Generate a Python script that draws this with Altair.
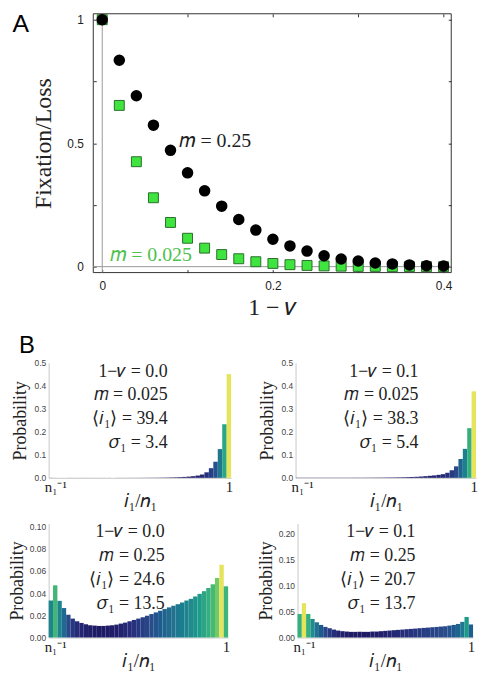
import altair as alt
import pandas as pd

SERIF = "Liberation Serif"
SANS = "Liberation Sans"

# ---------------- Panel A data ----------------
x_a = [0.00, 0.02, 0.04, 0.06, 0.08, 0.10, 0.12, 0.14, 0.16, 0.18, 0.20,
       0.22, 0.24, 0.26, 0.28, 0.30, 0.32, 0.34, 0.36, 0.38, 0.40]
fix_m025 = [1.000, 0.836, 0.692, 0.573, 0.471, 0.380, 0.307, 0.245, 0.191, 0.148, 0.111,
            0.084, 0.063, 0.044, 0.031, 0.023, 0.015, 0.011, 0.007, 0.004, 0.003]
fix_m0025 = [1.000, 0.653, 0.425, 0.279, 0.179, 0.115, 0.075, 0.049, 0.032, 0.020, 0.013,
             0.008, 0.005, 0.003, 0.002, 0.001, 0.001, 0.000, 0.000, 0.000, 0.000]
x_ticks_a = [0, 0.1, 0.2, 0.3, 0.4]
y_ticks_a = [0, 0.25, 0.5, 0.75, 1]

# ---------------- Panel B data ----------------
i_vals = [0, 1, 2, 3, 4, 5, 6, 7, 8, 9, 10, 11, 12, 13, 14, 15, 16, 17, 18, 19, 20,
          21, 22, 23, 24, 25, 26, 27, 28, 29, 30, 31, 32, 33, 34, 35, 36, 37, 38, 39, 40]

p_b1 = [0.0003, 0.0002, 0.0002, 0.0002, 0.0002, 0.0002, 0.0002, 0.0002, 0.0002, 0.0002,
        0.0002, 0.0002, 0.0002, 0.0002, 0.0002, 0.0003, 0.0003, 0.0003, 0.0004, 0.0004,
        0.0005, 0.0006, 0.0007, 0.0008, 0.0010, 0.0012, 0.0015, 0.0019, 0.0024, 0.0031,
        0.0040, 0.0053, 0.0072, 0.0100, 0.0145, 0.0240, 0.0420, 0.0700, 0.1250, 0.2330,
        0.4510]
p_b2 = [0.0010, 0.0009, 0.0009, 0.0009, 0.0009, 0.0009, 0.0009, 0.0009, 0.0009, 0.0009,
        0.0009, 0.0009, 0.0009, 0.0010, 0.0010, 0.0010, 0.0011, 0.0012, 0.0013, 0.0014,
        0.0016, 0.0018, 0.0020, 0.0023, 0.0027, 0.0032, 0.0038, 0.0046, 0.0057, 0.0072,
        0.0088, 0.0105, 0.0130, 0.0160, 0.0220, 0.0330, 0.0500, 0.0820, 0.1260, 0.2160,
        0.3760]
p_b3 = [0.0333, 0.0470, 0.0330, 0.0265, 0.0205, 0.0170, 0.0146, 0.0131, 0.0119, 0.0110,
        0.0107, 0.0104, 0.0104, 0.0107, 0.0110, 0.0116, 0.0125, 0.0134, 0.0146, 0.0158,
        0.0170, 0.0182, 0.0196, 0.0211, 0.0226, 0.0241, 0.0256, 0.0271, 0.0286, 0.0300,
        0.0315, 0.0333, 0.0348, 0.0369, 0.0393, 0.0417, 0.0446, 0.0479, 0.0536, 0.0655,
        0.0461]
p_b4 = [0.0451, 0.0660, 0.0450, 0.0356, 0.0292, 0.0241, 0.0203, 0.0178, 0.0152, 0.0133,
        0.0121, 0.0114, 0.0108, 0.0108, 0.0108, 0.0108, 0.0108, 0.0114, 0.0114, 0.0121,
        0.0127, 0.0133, 0.0140, 0.0146, 0.0152, 0.0159, 0.0165, 0.0171, 0.0178, 0.0184,
        0.0190, 0.0197, 0.0203, 0.0210, 0.0216, 0.0229, 0.0241, 0.0260, 0.0300, 0.0394,
        0.0250]

lines_b1 = ["1\u2212\U0001D708 = 0.0", "\U0001D45A = 0.025", "\u27E8\U0001D456\u2081\u27E9 = 39.4", "\U0001D70E\u2081 = 3.4"]
lines_b2 = ["1\u2212\U0001D708 = 0.1", "\U0001D45A = 0.025", "\u27E8\U0001D456\u2081\u27E9 = 38.3", "\U0001D70E\u2081 = 5.4"]
lines_b3 = ["1\u2212\U0001D708 = 0.0", "\U0001D45A = 0.25", "\u27E8\U0001D456\u2081\u27E9 = 24.6", "\U0001D70E\u2081 = 13.5"]
lines_b4 = ["1\u2212\U0001D708 = 0.1", "\U0001D45A = 0.25", "\u27E8\U0001D456\u2081\u27E9 = 20.7", "\U0001D70E\u2081 = 13.7"]

VIR = ["#1f1a66", "#27307c", "#2a4d8b", "#266e8e", "#23898d", "#2ba584",
       "#51bd70", "#8fd35a", "#e6e45a"]

# ---------------- Panel A ----------------
A_SHIFT = 45          # plot area starts this far right of the panel origin
A_W = 406             # panel width (origin .. right frame)
XMIN, XMAX = -0.0105, 0.409
YMIN, YMAX = -0.024, 1.024
TK = 3                # inward tick length

dfA = pd.DataFrame({"x": x_a, "black": fix_m025, "green": fix_m0025})
xsA = alt.Scale(domain=[XMIN, XMAX], range=[A_SHIFT, A_W], nice=False, zero=False)
ysA = alt.Scale(domain=[YMIN, YMAX], nice=False, zero=False)

xax_bottom = alt.Axis(values=x_ticks_a, format="~g",
                      labelExpr="(datum.value == 0.1 || datum.value == 0.3) ? '' : datum.label",
                      title="1 \u2212 \U0001D708", orient="bottom",
                      titleFont=SERIF, titleFontSize=24, titleFontWeight="normal", titleColor="#222",
                      titlePadding=4, labelFont=SANS, labelFontSize=12, labelColor="#222",
                      labelPadding=8, ticks=True, tickSize=TK, tickColor="#333", tickWidth=1,
                      offset=-TK, domain=False, grid=False, labelFlush=False)
xax_top = alt.Axis(values=x_ticks_a, orient="top", labels=False, title="", ticks=True,
                   tickSize=TK, tickColor="#333", tickWidth=1, offset=-TK, domain=False, grid=False)
yax_left = alt.Axis(values=y_ticks_a, format="~g",
                    labelExpr="(datum.value == 0.25 || datum.value == 0.75) ? '' : datum.label",
                    title="Fixation/Loss", orient="left",
                    titleFont=SERIF, titleFontSize=24, titleFontWeight="normal", titleColor="#222",
                    titlePadding=10, labelFont=SANS, labelFontSize=12, labelColor="#222",
                    labelPadding=10, ticks=True, tickSize=TK, tickColor="#333", tickWidth=1,
                    domain=False, grid=False, minExtent=31, maxExtent=31, offset=-(A_SHIFT + TK))
yax_right = alt.Axis(values=y_ticks_a, orient="right", labels=False, title="", ticks=True,
                     tickSize=TK, tickColor="#333", tickWidth=1, offset=-TK, domain=False, grid=False)

X_bot = alt.X("x:Q", scale=xsA, axis=xax_bottom)
X_top = alt.X("x:Q", scale=xsA, axis=xax_top)
X_no = alt.X("x:Q", scale=xsA, axis=None)
Y_left = alt.Y("black:Q", scale=ysA, axis=yax_left)
Y_right = alt.Y("black:Q", scale=ysA, axis=yax_right)
Y_no = alt.Y("black:Q", scale=ysA, axis=None)
Yg_no = alt.Y("green:Q", scale=ysA, axis=None)

frame_h = alt.Chart(pd.DataFrame({"black": [YMIN, YMAX], "x": [XMIN, XMIN], "xe": [XMAX, XMAX]})).mark_rule(
    color="#333", strokeWidth=1).encode(y=Y_left, x=X_bot, x2="xe:Q")
frame_v = alt.Chart(pd.DataFrame({"x": [XMIN, XMAX], "black": [YMIN, YMIN], "ye": [YMAX, YMAX]})).mark_rule(
    color="#333", strokeWidth=1).encode(x=X_top, y=Y_right, y2="ye:Q")
zero_v = alt.Chart(pd.DataFrame({"x": [0.0]})).mark_rule(color="#9a9a9a", strokeWidth=1).encode(x=X_no)
zero_h = alt.Chart(pd.DataFrame({"black": [0.0], "x": [XMIN], "xe": [XMAX]})).mark_rule(
    color="#9a9a9a", strokeWidth=1).encode(y=Y_no, x=X_no, x2="xe:Q")
squares = alt.Chart(dfA).mark_square(size=100, color="#3fe43f", stroke="#2a6e2a",
                                      strokeWidth=1, opacity=1, filled=True).encode(x=X_no, y=Yg_no)
circles = alt.Chart(dfA).mark_circle(size=135, color="black", opacity=1).encode(x=X_no, y=Y_no)
lab_black = alt.Chart(pd.DataFrame({"x": [0.0905], "black": [0.51], "t": ["\U0001D45A = 0.25"]})).mark_text(
    align="left", baseline="middle", font=SERIF, fontSize=20, color="#222").encode(x=X_no, y=Y_no, text="t:N")
lab_green = alt.Chart(pd.DataFrame({"x": [0.0093], "black": [0.045], "t": ["\U0001D45A = 0.025"]})).mark_text(
    align="left", baseline="middle", font=SERIF, fontSize=20, color="#4cc24c").encode(x=X_no, y=Y_no, text="t:N")
lab_A = alt.Chart(pd.DataFrame({"t": ["A"]})).mark_text(
    align="center", baseline="alphabetic", font=SANS, fontSize=25, color="black").encode(
    x=alt.value(-28), y=alt.value(18), text="t:N")

panelA = alt.layer(frame_h, frame_v, zero_v, zero_h, squares, circles,
                   lab_black, lab_green, lab_A).resolve_axis(
    x="independent", y="independent").properties(width=A_W, height=261)


# ---------------- Panel B ----------------
def hist(probs, lines, ytop, yticks, yfmt, w, h, text_x, title_pad, letter=None):
    df = pd.DataFrame({"i": i_vals, "p": probs})
    xs = alt.Scale(domain=[-0.5, 40.5], nice=False, zero=False)
    ys = alt.Scale(domain=[0, ytop], nice=False, zero=True)
    xax = alt.Axis(values=[1, 40], labelExpr="datum.value == 1 ? 'n\u2081\u207B\u00B9' : '1'",
                   labelFont=SERIF, labelFontSize=15, labelColor="#222", labelPadding=2,
                   ticks=False, domainColor="#c8c8c8", grid=False, labelFlush=False,
                   title="\U0001D456\u2081/\U0001D45B\u2081", titleFont=SERIF, titleFontSize=19,
                   titleFontWeight="normal", titleColor="#222", titlePadding=1,
                   minExtent=13, maxExtent=13)
    yax = alt.Axis(values=yticks, format=yfmt, title="Probability", titleFont=SERIF,
                   titleFontSize=18, titleFontWeight="normal", titleColor="#222",
                   titlePadding=title_pad, labelFont=SANS, labelFontSize=8.5, labelColor="#444",
                   labelPadding=3, ticks=False, domainColor="#c8c8c8", grid=False,
                   minExtent=16, maxExtent=16)
    bars = alt.Chart(df).transform_calculate(
        lo="datum.i - 0.5", hi="datum.i + 0.5"
    ).mark_rect().encode(
        x=alt.X("lo:Q", scale=xs, axis=xax),
        x2="hi:Q",
        y=alt.Y("p:Q", scale=ys, axis=yax),
        y2=alt.datum(0),
        color=alt.Color("p:Q", scale=alt.Scale(type="pow", exponent=0.7, range=VIR), legend=None),
    )
    layers = [bars]
    baselines = [14, 38, 62, 86]
    for t, yb in zip(lines, baselines):
        layers.append(alt.Chart(pd.DataFrame({"t": [t]})).mark_text(
            align="right", baseline="alphabetic", font=SERIF, fontSize=18, color="#222"
        ).encode(x=alt.value(text_x), y=alt.value(yb), text="t:N"))
    if letter:
        layers.append(alt.Chart(pd.DataFrame({"t": [letter]})).mark_text(
            align="center", baseline="middle", font=SANS, fontSize=24, color="black"
        ).encode(x=alt.value(-22), y=alt.value(-17), text="t:N"))
    return alt.layer(*layers).properties(width=w, height=h)


b1 = hist(p_b1, lines_b1, 0.5, [0, 0.1, 0.2, 0.3, 0.4, 0.5], ".1f", 184, 116, 120, 3, "B")
b2 = hist(p_b2, lines_b2, 0.5, [0, 0.1, 0.2, 0.3, 0.4, 0.5], ".1f", 182, 116, 124, 3)
b3 = hist(p_b3, lines_b3, 0.1027, [0, 0.02, 0.04, 0.06, 0.08, 0.10], ".2f", 181, 115, 117, 6)
b4 = hist(p_b4, lines_b4, 0.219, [0, 0.05, 0.10, 0.15, 0.20], ".2f", 177, 115, 119, 6)

row_top = alt.hconcat(b1, b2, spacing=65, bounds="flush").resolve_scale(color="independent")
row_bot = alt.hconcat(b3, b4, spacing=70, bounds="flush").resolve_scale(color="independent")
panelB = alt.vconcat(row_top, row_bot, spacing=10).resolve_scale(color="independent")

chart = alt.vconcat(panelA, panelB, spacing=13).resolve_scale(color="independent").properties(
    padding=0, background="white"
).configure_view(stroke="transparent")

chart.save("out.html", embed_options={"renderer": "svg", "actions": False})
